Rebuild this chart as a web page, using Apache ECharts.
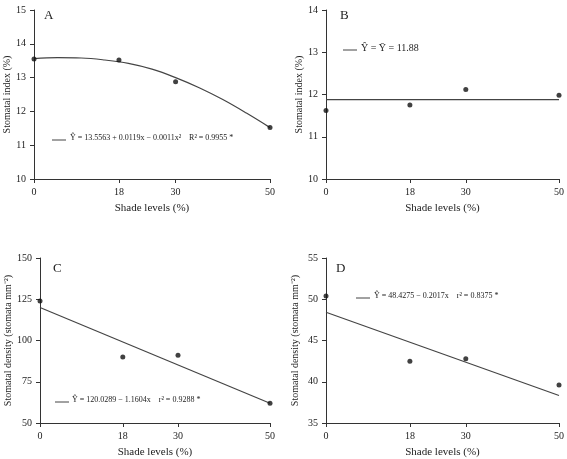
<!DOCTYPE html>
<html><head><meta charset="utf-8">
<script src="https://cdn.jsdelivr.net/npm/echarts@6/dist/echarts.min.js"></script>
<style>html,body{margin:0;background:#fff}#c{width:567px;height:459px}</style>
</head><body><div id="c"></div>
<script>
const shade = [0, 18, 30, 50];
const indexA = [13.55, 13.52, 12.88, 11.52];
const fitAx = [0, 5, 10, 15, 20, 25, 30, 35, 40, 45, 50];
const fitAy = [13.56, 13.59, 13.58, 13.52, 13.42, 13.25, 13.0, 12.7, 12.35, 11.95, 11.52];
const indexB = [11.62, 11.75, 12.12, 11.98];
const meanB = 11.88;
const densC = [124, 90, 91, 62];
const fitC = [120.03, 62.0];
const densD = [50.4, 42.5, 42.8, 39.6];
const fitD = [48.43, 38.34];

const F = 'Liberation Serif, Times New Roman, serif';
const chart = echarts.init(document.getElementById('c'));
const grids = [
  {left: 34, top: 10, width: 236, height: 169},
  {left: 326, top: 10, width: 233, height: 169},
  {left: 40, top: 258, width: 230, height: 165},
  {left: 326, top: 258, width: 233, height: 165}
];
const yr = [[10, 15, 1], [10, 14, 1], [50, 150, 25], [35, 55, 5]];
const ynames = ['Stomatal index (%)', 'Stomatal index (%)', 'Stomatal density (stomata mm⁻²)', 'Stomatal density (stomata mm⁻²)'];
const ax = {lineStyle: {color: '#333'}};
const xAxis = grids.map((g, i) => ({
  gridIndex: i, type: 'value', min: 0, max: 50, name: 'Shade levels (%)', nameLocation: 'middle', nameGap: 24,
  nameTextStyle: {fontFamily: F, fontSize: 11, color: '#222'},
  axisLine: ax, splitLine: {show: false},
  axisTick: {customValues: shade, length: 4, inside: false, lineStyle: {color: '#333'}},
  axisLabel: {customValues: shade, fontFamily: F, fontSize: 10, color: '#222'}
}));
const yAxis = grids.map((g, i) => ({
  gridIndex: i, type: 'value', min: yr[i][0], max: yr[i][1], interval: yr[i][2],
  name: ynames[i], nameLocation: 'middle', nameGap: i >= 2 ? 26 : 22,
  nameTextStyle: {fontFamily: F, fontSize: 10, color: '#222'},
  axisLine: {show: true, lineStyle: {color: '#333'}}, splitLine: {show: false},
  axisTick: {show: true, length: 4, lineStyle: {color: '#333'}},
  axisLabel: {fontFamily: F, fontSize: 10, color: '#222'}
}));
const pts = (ys) => shade.map((x, k) => [x, ys[k]]);
const sc = (i, ys) => ({type: 'scatter', xAxisIndex: i, yAxisIndex: i, data: pts(ys), symbolSize: 5, itemStyle: {color: '#111'}, z: 3});
const ln = (i, data, smooth) => ({type: 'line', xAxisIndex: i, yAxisIndex: i, data, smooth: smooth || false, showSymbol: false, lineStyle: {color: '#444', width: 1.2}});
const series = [
  ln(0, fitAx.map((x, k) => [x, fitAy[k]]), 0.4), sc(0, indexA),
  ln(1, [[0, meanB], [50, meanB]]), sc(1, indexB),
  ln(2, [[0, fitC[0]], [50, fitC[1]]]), sc(2, densC),
  ln(3, [[0, fitD[0]], [50, fitD[1]]]), sc(3, densD)
];
const T = (x, y, t, s) => ({type: 'text', left: x, top: y, style: {text: t, fontFamily: F, fontSize: s || 9, fill: '#222'}});
const L = (x, y) => ({type: 'line', shape: {x1: x, y1: y, x2: x + 14, y2: y}, style: {stroke: '#444', lineWidth: 1}});
const graphic = [
  T(44, 9, 'A', 13), T(340, 9, 'B', 13), T(53, 262, 'C', 13), T(336, 262, 'D', 13),
  L(52, 140), T(70, 134, 'Ŷ = 13.5563 + 0.0119x − 0.0011x²    R² = 0.9955 *', 8),
  L(343, 50), T(361, 43, 'Ŷ = Ȳ = 11.88', 10),
  L(55, 402), T(72, 396, 'Ŷ = 120.0289 − 1.1604x    r² = 0.9288 *', 8),
  L(356, 298), T(374, 292, 'Ŷ = 48.4275 − 0.2017x    r² = 0.8375 *', 8)
];
chart.setOption({animation: false, backgroundColor: '#fff', grid: grids, xAxis, yAxis, series, graphic});
</script></body></html>
